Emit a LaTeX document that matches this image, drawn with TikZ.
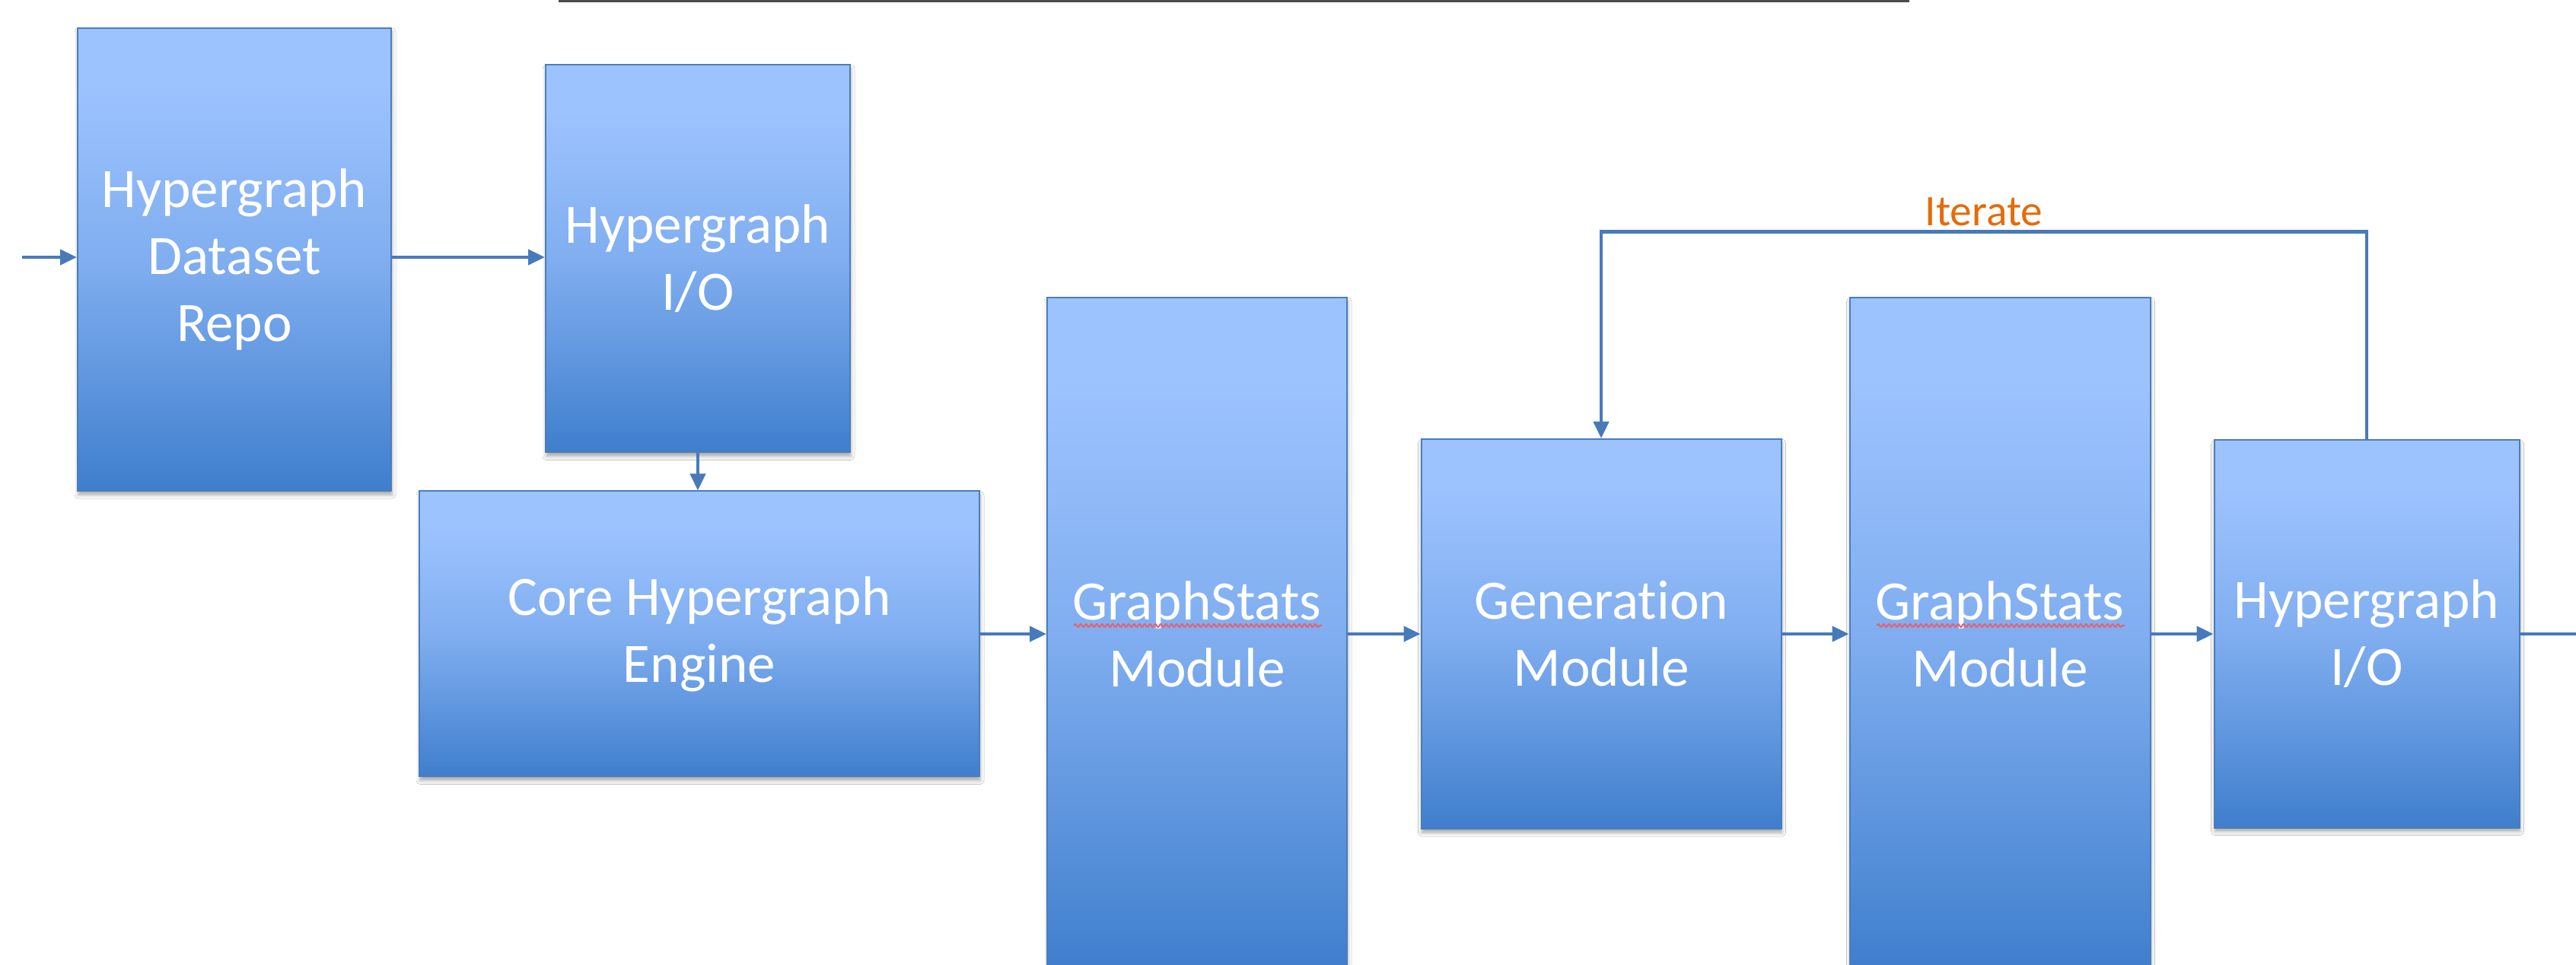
\documentclass[tikz,border=0pt]{standalone}
\usepackage{fontspec}
\setmainfont{Carlito}[Ligatures=NoCommon]
\usetikzlibrary{arrows.meta,shadows.blur,decorations.pathmorphing}

\definecolor{boxtop}{RGB}{157,195,254}
\definecolor{boxmid}{RGB}{128,174,240}
\definecolor{boxlow}{RGB}{95,150,222}
\definecolor{boxbot}{RGB}{63,126,205}
\definecolor{boxline}{RGB}{74,126,187}
\definecolor{linkblue}{RGB}{72,122,186}
\definecolor{iterorange}{RGB}{228,108,10}
\definecolor{spellred}{RGB}{232,96,110}

% light at the top, darker towards the bottom
\pgfdeclareverticalshading{boxfill}{100bp}{color(0bp)=(boxbot); color(25bp)=(boxbot); color(37bp)=(boxlow); color(50bp)=(boxmid); color(69bp)=(boxtop); color(100bp)=(boxtop)}

\begin{document}
\begin{tikzpicture}[>={Triangle[length=0.22cm,width=0.2cm]},
    box/.style={rectangle, draw=boxline, line width=0.02cm, shading=boxfill,
        text=white, align=center, inner sep=0pt,
        font=\fontsize{20.8}{25}\selectfont,
        blur shadow={shadow xshift=0.01cm, shadow yshift=-0.05cm,
            shadow blur radius=0.05cm, shadow opacity=35}},
    link/.style={draw=linkblue, line width=0.045cm},
    spell/.style={spellred, line width=0.02cm, decorate,
        decoration={snake, amplitude=0.02cm, segment length=0.07cm}}]

    \clip (0,0) rectangle (33.85,-12.68);
    \fill[white] (0,0) rectangle (33.85,-12.68);

    % rule along the top edge
    \draw[line width=0.03cm, black!70] (7.34,-0.015) -- (25.09,-0.015);

    % upper row
    \node[box, minimum width=4.12cm, minimum height=6.08cm] (repo) at (3.08,-3.41) {Hypergraph\\Dataset\\Repo};
    \node[box, minimum width=4.00cm, minimum height=5.09cm] (ioA) at (9.17,-3.40) {Hypergraph\\I/O};

    % main row
    \node[box, minimum width=7.36cm, minimum height=3.75cm] (core) at (9.19,-8.33) {Core Hypergraph\\Engine};
    \node[box, minimum width=3.94cm, minimum height=8.84cm] (statsA) at (15.73,-8.33) {GraphStats\\Module};
    \node[box, minimum width=4.73cm, minimum height=5.12cm] (gen) at (21.04,-8.33) {Generation\\Module};
    \node[box, minimum width=3.95cm, minimum height=8.84cm] (statsB) at (26.28,-8.33) {GraphStats\\Module};
    \node[box, minimum width=4.01cm, minimum height=5.09cm] (ioB) at (31.10,-8.33) {Hypergraph\\I/O};

    % spell-check marks under GraphStats
    \foreach \s in {statsA,statsB}
        \draw[spell] ([xshift=-1.62cm,yshift=0.11cm]\s.center) -- ([xshift=1.64cm,yshift=0.11cm]\s.center);

    % free ends of the pipeline
    \coordinate (in) at (0.29,-3.38);
    \coordinate (out) at (33.85,-8.33);

    % connectors
    \draw[link,->] (in) -- (in -| repo.west);
    \draw[link,->] (repo.east |- in) -- (in -| ioA.west);
    \draw[link,->] (ioA.south) -- (ioA.south |- core.north);
    \draw[link,->] (core.east) -- (statsA.west);
    \draw[link,->] (statsA.east) -- (gen.west);
    \draw[link,->] (gen.east) -- (statsB.west);
    \draw[link,->] (statsB.east) -- (ioB.west);
    \draw[link] (ioB.east) -- (out);

    % feedback loop
    \draw[link,->] (ioB.north) -- ++(0,2.73) -| (gen.north)
        node[pos=0.25, above=0pt, inner sep=0.05cm, text=iterorange, font=\fontsize{16.3}{19}\selectfont] (iter) {Iterate};

\end{tikzpicture}
\end{document}
